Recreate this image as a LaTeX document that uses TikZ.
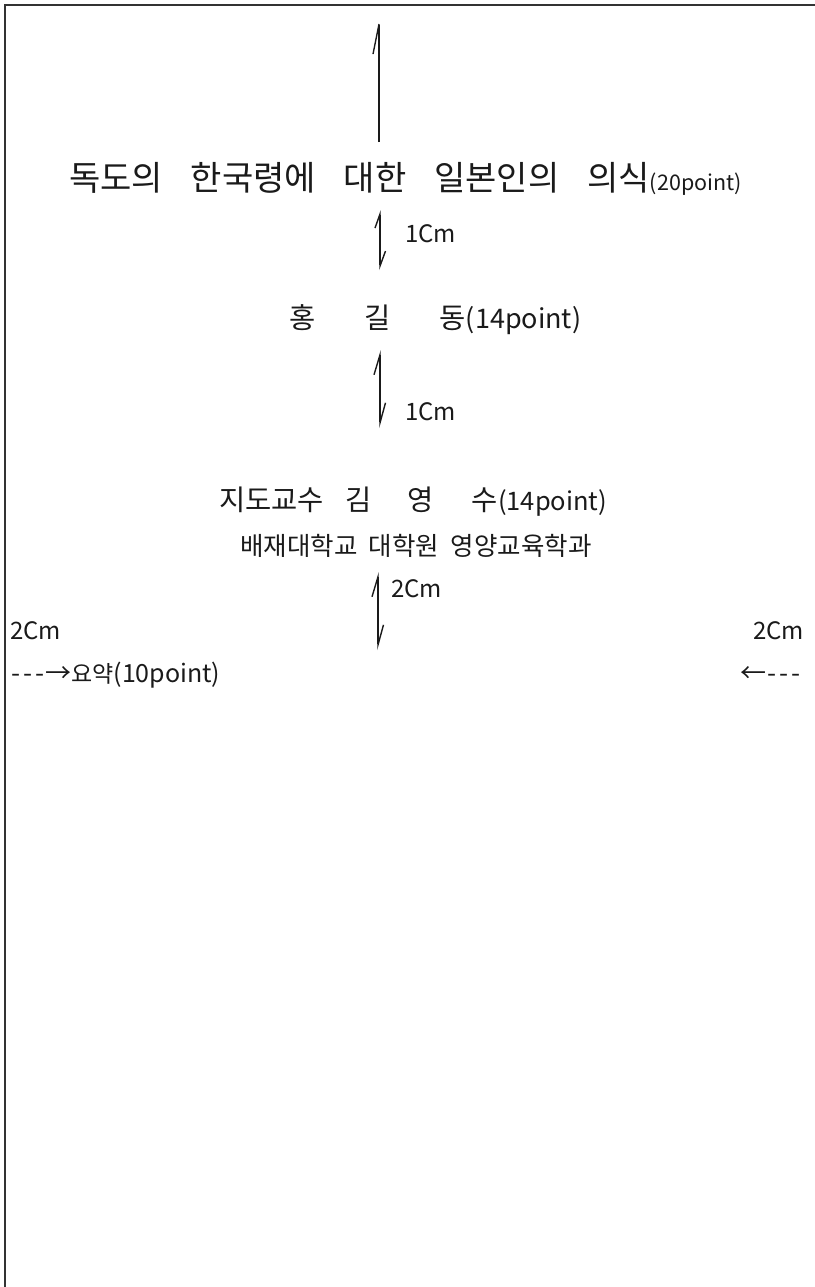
\documentclass[tikz,border=0pt]{standalone}
\usepackage{fontspec}
\usetikzlibrary{arrows.meta}
\newfontfamily\kr{Noto Sans CJK KR}
\definecolor{ink}{HTML}{1A1A1A}
\definecolor{edge}{HTML}{333333}
\newcommand{\ttlfont}{\kr\fontsize{34pt}{40pt}\selectfont\spaceskip=0.82em\relax}
\newcommand{\nmfont}{\kr\fontsize{28.5pt}{33pt}\selectfont\spaceskip=1.72em\relax}
\newcommand{\advfont}{\kr\fontsize{28.5pt}{33pt}\selectfont}
\newcommand{\deptfont}{\kr\fontsize{25.5pt}{30pt}\selectfont\spaceskip=0.45em\relax}
\newcommand{\cmfont}{\kr\fontsize{24pt}{28pt}\selectfont}
\newcommand{\absfont}{\kr\fontsize{23pt}{27pt}\selectfont}
\newcommand{\latsize}[1]{\fontsize{#1}{#1}\selectfont}
\tikzset{
  txt/.style={inner sep=0pt,anchor=base west,text=ink},
  pageedge/.style={line width=2pt,draw=edge},
  upline/.style={line width=1.4pt,draw=ink,-{Straight Barb[harpoon,length=30pt,width=12pt]}},
  dimshort/.style={line width=1.4pt,draw=ink,
    {Straight Barb[harpoon,length=14pt,width=10pt]}-{Straight Barb[harpoon,length=15pt,width=11pt]}},
  dimlong/.style={line width=1.4pt,draw=ink,
    {Straight Barb[harpoon,length=20pt,width=12pt]}-{Straight Barb[harpoon,length=20pt,width=11pt]}},
}

\begin{document}
\begin{tikzpicture}[x=1pt,y=-1pt]
  \useasboundingbox (0,0) rectangle (814,1287);

  % page edge (top and left)
  \coordinate (pgTR) at (820,5.5);
  \coordinate (pgTL) at (4.5,5.5);
  \coordinate (pgBL) at (4.5,1290);
  \draw[pageedge] (pgTR) -- (pgTL) -- (pgBL);

  % text lines
  \node[txt,font=\ttlfont] (title) at (69,190)
    {독도의 한국령에 대한 일본인의 의식{\latsize{21.5pt}(20point)}};
  \node[txt,font=\nmfont] (name) at (289,328) {홍 길 동{\latsize{27pt}(14point)}};
  \node[txt,font=\advfont] (advisor) at (219,510)
    {지도교수\hspace{0.75em}김\hspace{1.25em}영\hspace{1.35em}수{\latsize{25.5pt}(14point)}};
  \node[txt,font=\deptfont] (dept) at (240,555) {배재대학교 대학원 영양교육학과};
  \node[txt,font=\absfont] (abstract) at (11,682)
    {{\latsize{26pt}-\hspace{3pt}-\hspace{3pt}-\hspace{1pt}→}요약{\latsize{25pt}(10point)}};
  \node[txt,font=\absfont] (rmargin) at (740,682)
    {{\latsize{26pt}←\hspace{1pt}-\hspace{3pt}-\hspace{3pt}-}};

  % spacing marks
  \coordinate (a0s) at (379,142);  \coordinate (a0e) at (379,17);
  \coordinate (a1s) at (380,210);  \coordinate (a1e) at (380,270);
  \coordinate (a2s) at (380,350);  \coordinate (a2e) at (380,428);
  \coordinate (a3s) at (378,572);  \coordinate (a3e) at (378,650);
  \draw[upline] (a0s) -- (a0e);
  \draw[dimshort] (a1s) -- (a1e);
  \draw[dimlong] (a2s) -- (a2e);
  \draw[dimlong] (a3s) -- (a3e);

  \node[txt,font=\cmfont] (gap1) at (405,242) {1Cm};
  \node[txt,font=\cmfont] (gap2) at (405,420) {1Cm};
  \node[txt,font=\cmfont] (gap3) at (391,597) {2Cm};
  \node[txt,font=\cmfont] (lgap) at (10,639) {2Cm};
  \node[txt,font=\cmfont] (rgap) at (753,639) {2Cm};
\end{tikzpicture}
\end{document}
